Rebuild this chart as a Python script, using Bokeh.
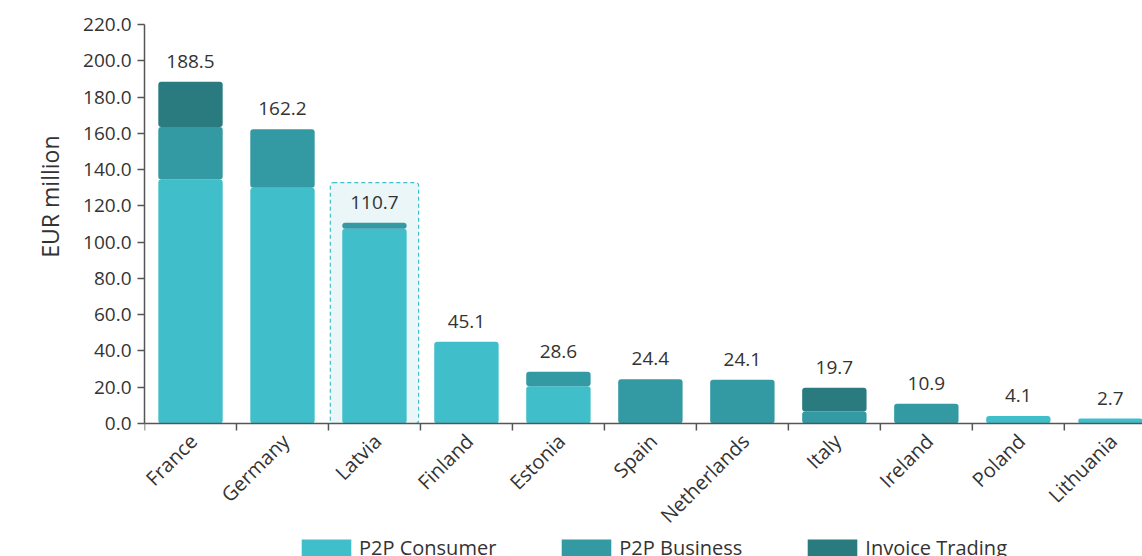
from bokeh.plotting import figure
from bokeh.models import (Range1d, FixedTicker, Legend, LegendItem, ColumnDataSource,
                          NumeralTickFormatter, Span, Title)
from bokeh.embed import file_html
from bokeh.resources import INLINE
from bokeh.core.properties import value
import math

countries = ["France", "Germany", "Latvia", "Finland", "Estonia", "Spain",
             "Netherlands", "Italy", "Ireland", "Poland", "Lithuania"]
p2p_consumer = [134.5, 130.0, 107.4, 45.1, 20.5, 0.0, 0.0, 0.0, 0.0, 4.1, 2.7]
p2p_business = [29.0, 32.2, 3.3, 0.0, 8.1, 24.4, 24.1, 6.6, 10.9, 0.0, 0.0]
invoice_trading = [25.0, 0.0, 0.0, 0.0, 0.0, 0.0, 0.0, 13.1, 0.0, 0.0, 0.0]
totals = [188.5, 162.2, 110.7, 45.1, 28.6, 24.4, 24.1, 19.7, 10.9, 4.1, 2.7]
highlight_country = "Latvia"
y_ticks = [0, 20, 40, 60, 80, 100, 120, 140, 160, 180, 200, 220]

C_CONS = "#40bfcb"
C_BUS = "#3399a3"
C_INV = "#2a7b80"
FONT = "Open Sans"
TXT = "#333333"
AX = "#555555"

W, H = 1142, 556
LEFT, TOP = 144, 24
ZERO_PX = 423          # screen row of the value axis origin
Y_MAX = 220
px_per_unit = (ZERO_PX - TOP) / Y_MAX
y_start = -(H - ZERO_PX) / px_per_unit

xs = list(range(len(countries)))
bounds = [i - 0.5 for i in range(len(countries) + 1)]
src = ColumnDataSource(dict(x=xs, cons=p2p_consumer, bus=p2p_business, inv=invoice_trading,
                            total=totals, label=[f"{t:.1f}" for t in totals],
                            name=countries, zero=[0] * len(xs)))

p = figure(width=W, height=H, output_backend="svg", toolbar_location=None,
           x_range=Range1d(-0.5, 10.35), y_range=Range1d(y_start, Y_MAX),
           x_axis_location=None,
           min_border_left=LEFT, min_border_right=0, min_border_top=TOP, min_border_bottom=0)
p.outline_line_color = None
p.xgrid.visible = False
p.ygrid.visible = False

# highlight box
hi = countries.index(highlight_country)
hsrc = ColumnDataSource(dict(x=[hi], top=[totals[hi] * 1.2]))
p.vbar(x="x", top="top", bottom=0, width=0.96, source=hsrc, fill_color="#eaf6f8",
       line_color=C_CONS, line_dash="4 3", line_width=1.2, border_radius=3)

rs = p.vbar_stack(["cons", "bus", "inv"], x="x", width=0.7, source=src,
                  color=[C_CONS, C_BUS, C_INV], line_color=None, border_radius=3)

p.text(x="x", y="total", text="label", source=src, text_align="center",
       text_baseline="bottom", y_offset=-14, text_font=value(FONT),
       text_font_size="19px", text_color=TXT)

# category axis: baseline, boundary ticks, rotated labels
p.add_layout(Span(location=0, dimension="width", line_color=AX, line_width=1.5))
tick_len = 7 / px_per_unit
tsrc = ColumnDataSource(dict(x=bounds, y0=[0] * len(bounds), y1=[-tick_len] * len(bounds)))
p.segment(x0="x", x1="x", y0="y0", y1="y1", source=tsrc, line_color=AX, line_width=1.5)
p.text(x="x", y="zero", text="name", source=src, angle=math.pi / 4,
       text_align="right", text_baseline="middle", x_offset=3, y_offset=14,
       text_font=value(FONT), text_font_size="20px", text_color=TXT)

# y axis
ya = p.yaxis[0]
ya.bounds = (0, Y_MAX)
ya.ticker = FixedTicker(ticks=y_ticks)
ya.formatter = NumeralTickFormatter(format="0.0")
ya.major_label_text_font = FONT
ya.major_label_text_font_size = "19px"
ya.major_label_text_color = TXT
ya.axis_line_color = AX
ya.axis_line_width = 1.5
ya.major_tick_line_color = AX
ya.major_tick_line_width = 1.5
ya.major_tick_out = 7
ya.major_tick_in = 0
ya.minor_tick_line_color = None
ya.major_label_standoff = 6

# y axis title
p.add_layout(Title(text="EUR million", align="right", offset=111, standoff=30,
                   text_font=FONT, text_font_style="normal", text_font_size="23px",
                   text_color=TXT), "left")

legend = Legend(items=[LegendItem(label="P2P Consumer", renderers=[rs[0]]),
                       LegendItem(label="P2P Business", renderers=[rs[1]]),
                       LegendItem(label="Invoice Trading", renderers=[rs[2]])],
                orientation="horizontal", location=(151, -5),
                glyph_width=62, glyph_height=21, label_standoff=2, spacing=59,
                label_text_font=FONT, label_text_font_size="20px", label_text_color=TXT,
                border_line_color=None, background_fill_alpha=0, padding=0, margin=0)
p.add_layout(legend, "center")

open("out.html", "w").write(file_html(p, INLINE))
